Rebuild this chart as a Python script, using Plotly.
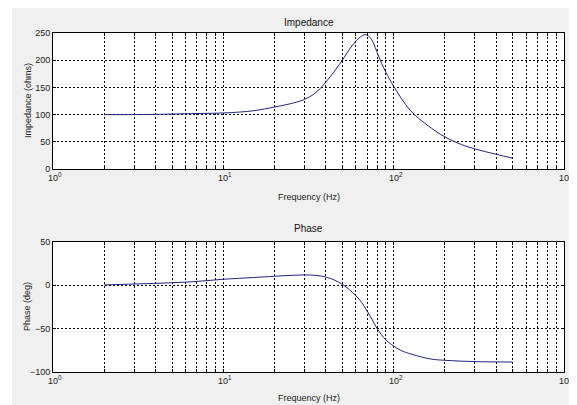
import plotly.graph_objects as go

# ---- data ----
imp_freq = [2, 3, 5, 7, 10, 15, 20, 24, 27, 30, 33, 36, 40, 45, 50, 55, 60, 64, 68, 72, 76,
            80, 85, 90, 100, 125, 157, 200, 250, 300, 400, 500]
imp_ohms = [100, 100, 101, 102, 103, 107, 114, 119, 123, 128, 135, 144, 160, 180, 200, 220,
            235, 243, 247, 243, 232, 214, 194, 178, 152, 108, 81, 59, 45, 37, 27, 20]

ph_freq = [2, 3, 5, 7, 10, 15, 20, 25, 30, 35, 40, 45, 50, 55, 60, 65, 70, 75, 80, 90,
           100, 110, 130, 165, 200, 300, 500]
ph_deg = [0.5, 1.5, 3, 4.5, 7, 9, 10.5, 11.5, 12, 11.5, 9.5, 6, 1, -5, -12, -20, -30,
          -40, -50, -63, -70, -75, -80, -85, -86.5, -88, -88.5]

decades = [1, 10, 100, 1000]
decade_labels = ["10<sup>0</sup>", "10<sup>1</sup>", "10<sup>2</sup>", "10<sup>3</sup>"]
imp_ticks = [0, 50, 100, 150, 200, 250]
ph_ticks = [-100, -50, 0, 50]

# log-grid tick values (labels drawn separately)
xtickvals = []
for d in decades:
    for m in range(1, 10):
        v = d * m
        if v > 1000:
            break
        xtickvals.append(v)

# page has an 8px body margin; figure occupies (8,8)-(577,405) of the screenshot
OX, OY = 8, 8
W, H = 577 - OX, 405 - OY
L, R, T, B = 53 - OX, 13, 33 - OY, 33
pw, ph = W - L - R, H - T - B

def py(ypx):  # screenshot pixel y -> paper y
    return (H - B - (ypx - OY)) / ph

def px(xpx):  # screenshot pixel x -> paper x
    return ((xpx - OX) - L) / pw

line_col = "#23237f"
font_fam = "Liberation Sans, Arial, sans-serif"
dotpat = "2px,2px"

fig = go.Figure()
fig.add_trace(go.Scatter(x=imp_freq, y=imp_ohms, mode="lines", line=dict(color=line_col, width=1, shape="spline"),
                         xaxis="x", yaxis="y", showlegend=False))
fig.add_trace(go.Scatter(x=ph_freq, y=ph_deg, mode="lines", line=dict(color=line_col, width=1, shape="spline"),
                         xaxis="x2", yaxis="y2", showlegend=False))

xcommon = dict(type="log", range=[0, 3], tickmode="array", tickvals=xtickvals,
               ticktext=[""] * len(xtickvals),
               showgrid=True, gridcolor="#000000", griddash=dotpat, gridwidth=1,
               ticks="inside", ticklen=3, tickcolor="#000000",
               showline=True, linecolor="#000000", linewidth=1, mirror="ticks",
               tickfont=dict(family=font_fam, size=9, color="#222222"), zeroline=False)
ycommon = dict(showgrid=True, gridcolor="#000000", griddash=dotpat, gridwidth=1,
               ticks="inside", ticklen=3, tickcolor="#000000",
               showline=True, linecolor="#000000", linewidth=1, mirror="ticks",
               tickfont=dict(family=font_fam, size=9, color="#222222"), zeroline=False)

fig.update_layout(
    width=W, height=H,
    margin=dict(l=L, r=R, t=T, b=B, pad=0),
    paper_bgcolor="#f0f0f0", plot_bgcolor="#ffffff",
    xaxis=dict(xcommon, domain=[0, 1], anchor="y"),
    yaxis=dict(ycommon, domain=[py(169), 1], range=[0, 250], tickvals=imp_ticks, anchor="x"),
    xaxis2=dict(xcommon, domain=[0, 1], anchor="y2"),
    yaxis2=dict(ycommon, domain=[0, py(242)], range=[-100, 50], tickvals=ph_ticks, anchor="x2"),
    shapes=[
        dict(type="rect", xref="paper", yref="paper", x0=px(OX), x1=px(12), y0=py(405), y1=py(OY),
             fillcolor="#ffffff", line=dict(width=0), layer="below"),
    ],
)

ann_font = dict(family=font_fam, size=9, color="#222222")
title_font = dict(family=font_fam, size=10, color="#111111")
annotations = [
    dict(text="Impedance", x=0.5, y=py(22), xref="paper", yref="paper", showarrow=False,
         font=title_font, xanchor="center", yanchor="middle"),
    dict(text="Frequency (Hz)", x=0.5, y=py(197), xref="paper", yref="paper", showarrow=False,
         font=ann_font, xanchor="center", yanchor="middle"),
    dict(text="Impedance (ohms)", x=px(28), y=py(101), xref="paper", yref="paper", showarrow=False,
         font=ann_font, textangle=-90, xanchor="center", yanchor="middle"),
    dict(text="Phase", x=0.5, y=py(228), xref="paper", yref="paper", showarrow=False,
         font=title_font, xanchor="center", yanchor="middle"),
    dict(text="Frequency (Hz)", x=0.5, y=py(398), xref="paper", yref="paper", showarrow=False,
         font=ann_font, xanchor="center", yanchor="middle"),
    dict(text="Phase (deg)", x=px(27), y=py(307), xref="paper", yref="paper", showarrow=False,
         font=ann_font, textangle=-90, xanchor="center", yanchor="middle"),
]
for i, lab in enumerate(decade_labels):
    for ypix in (177, 380):
        annotations.append(dict(text=lab, x=i / 3, y=py(ypix), xref="paper", yref="paper",
                                showarrow=False, font=ann_font, xanchor="center", yanchor="middle",
                                xshift=2))
fig.update_layout(annotations=annotations)

fig.write_html("out.html")
